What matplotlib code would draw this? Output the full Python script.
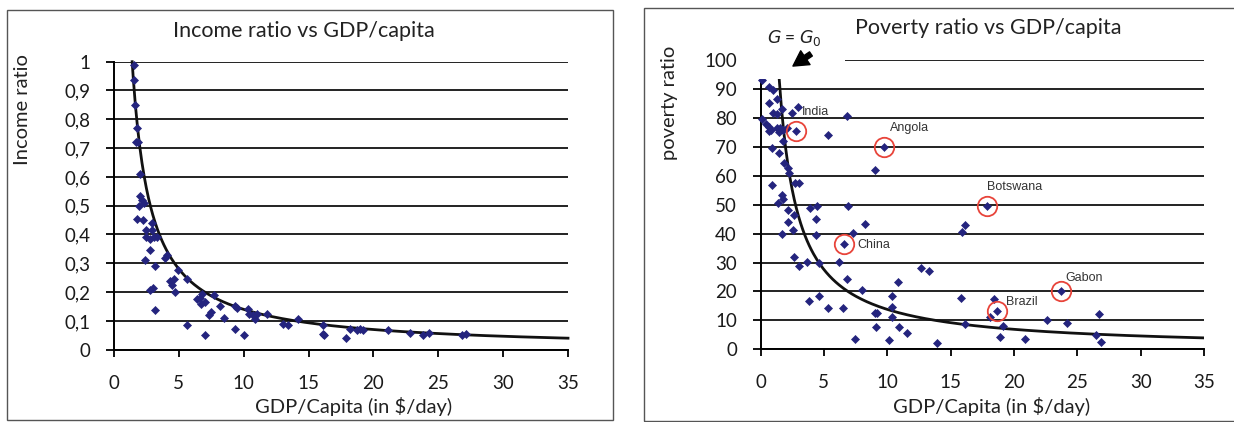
import matplotlib
matplotlib.use("Agg")
import matplotlib.pyplot as plt
from matplotlib.patches import Rectangle
import numpy as np

plt.rcParams['font.family'] = ['Lato', 'DejaVu Sans']

# ---- income ratio vs GDP per capita ----
income_gdp = [1.53, 1.53, 1.62, 1.77, 1.68, 1.83, 1.99, 1.99, 2.14, 1.90,
              2.30, 1.75, 2.27, 2.90, 2.50, 2.90, 2.45, 2.75, 3.06, 3.30,
              2.78, 2.40, 3.17, 3.94, 4.10, 2.78, 2.98, 3.17, 4.33, 4.60,
              4.90, 4.70, 5.60, 5.62, 6.40, 6.70, 6.80, 7.00, 7.70, 6.98,
              7.30, 7.50, 8.20, 8.45, 9.30, 9.50, 9.30, 10.0, 10.3, 10.4,
              10.7, 11.0, 10.9, 11.8, 13.0, 13.4, 14.2, 16.1, 16.1, 16.2,
              17.9, 18.2, 18.7, 19.0, 19.2, 21.1, 22.8, 23.8, 24.3, 26.8,
              27.1, 4.45, 6.60]
income_ratio = [0.99, 0.936, 0.85, 0.77, 0.72, 0.72, 0.61, 0.535, 0.52, 0.50,
                0.51, 0.455, 0.45, 0.44, 0.415, 0.415, 0.39, 0.385, 0.39, 0.39,
                0.346, 0.31, 0.29, 0.317, 0.33, 0.207, 0.215, 0.138, 0.24, 0.245,
                0.277, 0.20, 0.245, 0.086, 0.177, 0.16, 0.195, 0.165, 0.19, 0.051,
                0.12, 0.13, 0.152, 0.111, 0.152, 0.144, 0.071, 0.051, 0.143, 0.125,
                0.12, 0.125, 0.108, 0.125, 0.09, 0.085, 0.105, 0.085, 0.056, 0.052,
                0.042, 0.073, 0.067, 0.073, 0.067, 0.067, 0.058, 0.052, 0.058, 0.052,
                0.056, 0.225, 0.18]

# ---- poverty ratio vs GDP per capita ----
poverty_gdp = [0.15, 0.65, 0.96, 1.27, 0.70, 1.00, 1.30, 1.73, 2.46, 2.98,
               0.15, 0.46, 0.65, 0.86, 1.27, 1.57, 1.80, 2.10, 1.48, 0.70,
               5.34, 6.79, 9.02, 0.88, 1.48, 1.75, 1.88, 2.14, 2.27, 2.72,
               3.06, 0.93, 1.67, 1.80, 1.40, 2.14, 2.66, 2.19, 2.59, 1.67,
               3.90, 4.43, 4.37, 4.37, 6.92, 8.23, 7.30, 2.66, 3.06, 3.64,
               4.61, 6.19, 6.79, 8.02, 3.85, 4.61, 5.34, 6.52, 9.02, 9.23,
               10.4, 10.86, 10.4, 10.4, 9.15, 10.9, 11.6, 7.45, 10.15, 12.7,
               13.28, 13.93, 15.9, 16.1, 15.8, 16.1, 18.4, 18.1, 19.1, 18.9,
               20.9, 22.6, 24.2, 26.7, 26.5, 26.9]
poverty_ratio = [93.0, 90.5, 89.8, 86.6, 85.3, 81.8, 81.2, 83.0, 81.6, 83.9,
                 79.5, 78.0, 77.0, 75.8, 76.4, 76.4, 75.8, 76.6, 75.0, 75.5,
                 74.1, 80.6, 62.0, 69.5, 68.0, 72.0, 64.5, 62.6, 60.8, 57.4,
                 57.6, 56.8, 53.3, 51.8, 50.7, 48.2, 46.4, 44.1, 41.2, 39.9,
                 48.7, 49.5, 44.9, 39.5, 49.5, 43.3, 40.3, 31.8, 28.8, 30.3,
                 29.7, 30.3, 24.3, 20.5, 16.8, 18.4, 14.2, 14.2, 12.7, 12.7,
                 14.7, 23.4, 18.4, 11.3, 7.8, 7.8, 5.7, 3.5, 3.2, 28.0,
                 27.2, 2.3, 40.7, 43.0, 17.9, 8.8, 17.3, 11.3, 8.1, 4.1,
                 3.5, 10.1, 9.0, 12.1, 5.0, 2.4]

# countries singled out on the poverty chart
country_names = ['India', 'Angola', 'Botswana', 'China', 'Gabon', 'Brazil']
country_gdp = [2.77, 9.76, 17.85, 6.60, 23.7, 18.7]
country_poverty = [75.4, 70.0, 49.6, 36.4, 20.2, 13.2]
label_offsets = [(4.3, 14.0), (4.3, 13.3), (0.4, 13.7), (9.4, -0.7), (3.6, 9.4), (6.5, 6.8)]

# threshold model curves  y = k / G  for G above G0
G0 = 1.4
income_k = 1.4
poverty_k = 138.0

income_ticks = [0, 0.1, 0.2, 0.3, 0.4, 0.5, 0.6, 0.7, 0.8, 0.9, 1.0]
income_tick_labels = ['0', '0,1', '0,2', '0,3', '0,4', '0,5', '0,6', '0,7', '0,8', '0,9', '1']
poverty_ticks = [0, 10, 20, 30, 40, 50, 60, 70, 80, 90, 100]
gdp_ticks = [0, 5, 10, 15, 20, 25, 30, 35]

W, H = 1234, 422
fig = plt.figure(figsize=(W / 100, H / 100), dpi=100)
fig.patch.set_facecolor('white')

def fx(px):
    return px / W

def fy(py):
    return 1 - py / H

# panel frames
for x0, y0, x1, y1 in [(7, 10, 613, 420), (644, 8, 1245, 421)]:
    fig.add_artist(Rectangle((fx(x0), fy(y1)), fx(x1 - x0), (y1 - y0) / H,
                             transform=fig.transFigure, fill=False,
                             edgecolor='#555555', linewidth=1.0))

marker_color = '#24247e'
grid_color = '#111111'
text_color = '#1a1a1a'
tick_size = 13.5


def style_axes(ax, yticks, ylabels, ymax):
    ax.set_xlim(0, 35)
    ax.set_ylim(0, ymax)
    ax.set_xticks(gdp_ticks)
    ax.set_xticklabels([str(t) for t in gdp_ticks])
    ax.set_yticks(yticks)
    ax.set_yticklabels(ylabels)
    for side in ('top', 'right'):
        ax.spines[side].set_visible(False)
    for side in ('left', 'bottom'):
        ax.spines[side].set_linewidth(1.4)
        ax.spines[side].set_color('black')
    ax.yaxis.grid(True, color=grid_color, linewidth=1.3)
    ax.xaxis.grid(False)
    ax.tick_params(axis='y', direction='out', length=6, width=1.3,
                   pad=11, labelsize=tick_size, labelcolor=text_color)
    ax.tick_params(axis='x', direction='out', length=5, width=1.3,
                   pad=13, labelsize=tick_size, labelcolor=text_color)
    ax.set_facecolor('none')


# ---------- left panel ----------
axL = fig.add_axes([fx(114), fy(349.7), fx(568 - 114), (349.7 - 61.7) / H])
style_axes(axL, income_ticks, income_tick_labels, 1.0)
gL = np.linspace(G0, 35, 400)
axL.plot(gL, income_k / gL, color='#111111', linewidth=2.0, zorder=3, clip_on=False)
axL.plot(income_gdp, income_ratio, linestyle='none', marker='D', markersize=4.4,
         color=marker_color, markeredgewidth=0.5, zorder=4, clip_on=False)

fig.text(fx(304), fy(31), 'Income ratio vs GDP/capita', ha='center', va='center',
         fontsize=15.5, color='#222222')
fig.text(fx(354), fy(407), 'GDP/Capita (in $/day)', ha='center', va='center',
         fontsize=14.5, color='#222222')
fig.text(fx(23), fy(110), 'Income ratio', ha='center', va='center', rotation=90,
         fontsize=14.5, color='#222222')

# ---------- right panel ----------
axR = fig.add_axes([fx(760.5), fy(349.3), fx(1204 - 760.5), (349.3 - 60) / H])
style_axes(axR, poverty_ticks, [str(t) for t in poverty_ticks], 100)
gR = np.linspace(G0, 35, 400)
axR.plot(gR, poverty_k / gR, color='#111111', linewidth=2.0, zorder=3)
axR.plot(poverty_gdp, poverty_ratio, linestyle='none', marker='D', markersize=4.4,
         color=marker_color, markeredgewidth=0.5, zorder=4, clip_on=False)
axR.plot(country_gdp, country_poverty, linestyle='none', marker='D', markersize=4.0,
         color=marker_color, markeredgewidth=0.4, zorder=4)
axR.plot(country_gdp, country_poverty, linestyle='none', marker='o', markersize=14,
         markerfacecolor='none', markeredgecolor='#e8443a', markeredgewidth=1.3, zorder=5)
for name, gx, py, off in zip(country_names, country_gdp, country_poverty, label_offsets):
    axR.annotate(name, (gx, py), xytext=off, textcoords='offset points',
                 ha='left', va='center', fontsize=9, color='#333333',
                 family=['Liberation Sans', 'DejaVu Sans'], zorder=6)

# blank corner holding the threshold marker
axR.add_patch(Rectangle((-1.4, 93.6), 8.05, 12, facecolor='white', edgecolor='none',
                        zorder=7, clip_on=False))
axR.annotate('', xy=(2.56, 97.9), xytext=(3.98, 102.1),
             arrowprops=dict(arrowstyle='simple,head_width=1.0,head_length=0.9,tail_width=0.3',
                             color='black', mutation_scale=12, shrinkA=0, shrinkB=0),
             annotation_clip=False, zorder=8)
axR.text(2.7, 107.6, r'$G$ = $G_0$', ha='center', va='center', fontsize=12.5,
         color='#222222', zorder=8, clip_on=False)

fig.text(fx(988), fy(28), 'Poverty ratio vs GDP/capita', ha='center', va='center',
         fontsize=15.5, color='#222222')
fig.text(fx(992), fy(406), 'GDP/Capita (in $/day)', ha='center', va='center',
         fontsize=14.5, color='#222222')
fig.text(fx(669), fy(103), 'poverty ratio', ha='center', va='center', rotation=90,
         fontsize=14.5, color='#222222')

fig.savefig('out.png', dpi=100, facecolor='white')
